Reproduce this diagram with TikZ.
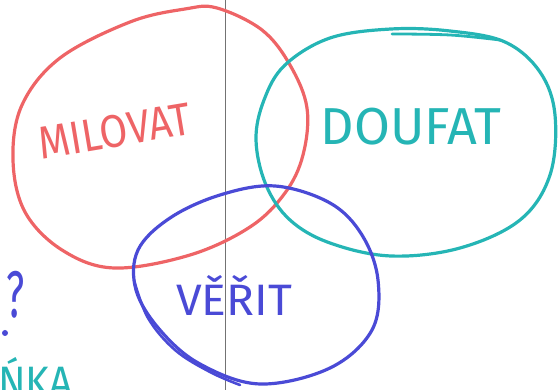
\documentclass[tikz,border=0pt]{standalone}
\usepackage{fontspec}
\setmainfont{Fira Sans}
\definecolor{redpen}{HTML}{EE6466}
\definecolor{cyanpen}{HTML}{25B5B5}
\definecolor{bluepen}{HTML}{4A4AD6}
\begin{document}
\begin{tikzpicture}[x=1pt,y=-1pt,
  pen/.style={line width=3.2pt,line cap=round,line join=round},
  lbl/.style={inner sep=0pt,anchor=center},
]
\useasboundingbox (0,0) rectangle (558,390);
\begin{scope}
\clip (0,0) rectangle (558,390);
% vertical fold line
\coordinate (ltop) at (225,0);
\coordinate (lbot) at (225,390);
\draw[line width=0.8pt,black!55] (ltop) -- (lbot);
% red ellipse
\draw[pen,redpen] plot[smooth cycle,tension=0.6] coordinates {
 (217,8) (262,30) (290,65) (307,108) (303,155) (285,193) (250,227) (190,255)
 (114,268) (62,250) (25,212) (13,160) (22,105) (60,58) (130,22) (185,9)};
% cyan ellipse
\draw[pen,cyanpen] plot[smooth cycle,tension=0.6] coordinates {
 (391,29) (450,31) (505,42) (540,72) (555,115) (550,175) (520,220) (460,248)
 (391,256) (330,243) (290,220) (266,185) (256,140) (264,100) (285,65) (330,38)};
\draw[pen,cyanpen,line width=2.8pt] plot[smooth,tension=0.6] coordinates {(392,34) (450,35) (500,40)};
% blue ellipse
\draw[pen,bluepen] plot[smooth cycle,tension=0.6] coordinates {
 (275,186) (330,203) (362,235) (378,280) (372,330) (330,368) (260,384)
 (200,364) (160,330) (136,290) (138,250) (170,218) (220,195)};
\draw[pen,bluepen,line width=2.6pt] plot[smooth,tension=0.6] coordinates {(134,280) (148,318) (175,350) (210,372) (240,385)};
% labels
\node[lbl,text=redpen,rotate=9.5] (milovat) at (115,131) {\scalebox{0.88}[1]{\fontsize{46}{46}\selectfont MILOVAT}};
\node[lbl,text=cyanpen] (doufat) at (411,127) {\fontsize{52}{52}\selectfont DOUFAT};
\node[lbl,text=bluepen,anchor=base] (verit) at (234,316) {\scalebox{1.05}[1]{\fontsize{44}{44}\selectfont VĚŘIT}};
\node[lbl,text=bluepen,anchor=base] (qmark) at (16,318) {\scalebox{0.6}[1]{\fontsize{66}{66}\selectfont ?}};
\fill[bluepen] (5,333) circle (3) node (dot) {};
\node[lbl,text=cyanpen,anchor=base west] (nka) at (-2,398) {\scalebox{0.92}[1]{\fontsize{44}{44}\selectfont ŃKA}};
\end{scope}
\end{tikzpicture}
\end{document}
